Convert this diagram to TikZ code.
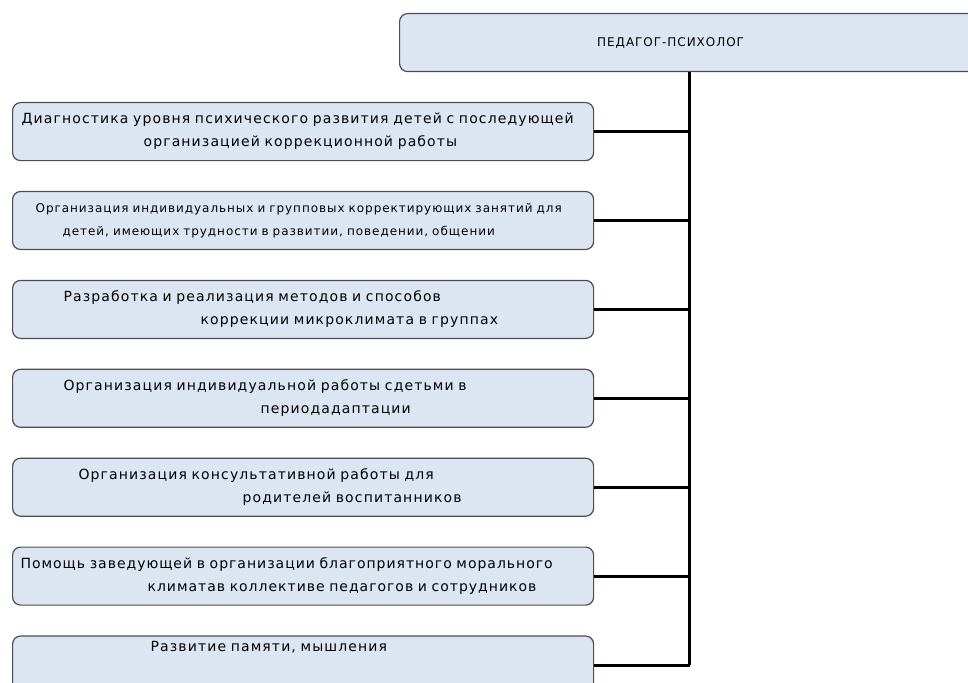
\documentclass[tikz,border=0pt]{standalone}
\usepackage{fontspec}
\setmainfont{DejaVu Sans}
\newfontfamily\boxfont[LetterSpace=8]{DejaVu Sans}
\newfontfamily\tightfont[LetterSpace=7]{DejaVu Sans}
\usetikzlibrary{positioning}
\definecolor{boxfill}{HTML}{DCE6F2}
\definecolor{boxline}{HTML}{4D4D4D}

\begin{document}
\begin{tikzpicture}[x=1pt,y=-1pt,node distance=29.7pt,
    box/.style={draw=boxline,fill=boxfill,line width=1.2pt,rounded corners=8pt,minimum height=58pt,inner xsep=0pt,inner ysep=0pt},
    item/.style={box,text width=581pt,align=left,font=\boxfont\fontsize{14}{23}\selectfont},
    link/.style={line width=3pt}]
    \clip (0,0) rectangle (968,682);

    \node[box,anchor=north west,minimum width=580pt,font=\boxfont\fontsize{12}{14}\selectfont] (pp) at (399,13) {\hspace*{-38pt}ПЕДАГОГ-ПСИХОЛОГ};

    \node[item,anchor=north west] (b1) at (12,102) {\hspace*{9pt}Диагностика уровня психического развития детей  с последующей\\\hspace*{131pt}организацией коррекционной работы};
    \node[item,below=of b1,font=\boxfont\fontsize{12}{23}\selectfont] (b2) {\hspace*{23pt}Организация индивидуальных  и групповых корректирующих занятий для\\\hspace*{50pt}детей, имеющих трудности в развитии, поведении, общении};
    \node[item,below=of b2] (b3) {\hspace*{51pt}Разработка и реализация методов и способов\\\hspace*{188pt}коррекции микроклимата в группах};
    \node[item,below=of b3] (b4) {\hspace*{51pt}Организация индивидуальной  работы сдетьми  в\\\hspace*{248pt}периодадаптации};
    \node[item,below=of b4] (b5) {\hspace*{66pt}Организация консультативной работы для\\\hspace*{230pt}родителей воспитанников};
    \node[item,below=of b5,font=\tightfont\fontsize{14}{23}\selectfont] (b6) {\hspace*{8pt}Помощь заведующей в организации благоприятного морального\\\hspace*{135pt}климатав коллективе педагогов и сотрудников};
    \node[item,below=of b6] (b7) {\hspace*{138pt}Развитие памяти, мышления\\[8pt]\strut};

    \coordinate (t0) at (pp.south);

    \path[link]
    (t0) edge (t0 |- b7.east)
    (b1.east) edge (b1.east -| t0)
    (b2.east) edge (b2.east -| t0)
    (b3.east) edge (b3.east -| t0)
    (b4.east) edge (b4.east -| t0)
    (b5.east) edge (b5.east -| t0)
    (b6.east) edge (b6.east -| t0)
    (b7.east) edge (b7.east -| t0)
    ;
\end{tikzpicture}
\end{document}
